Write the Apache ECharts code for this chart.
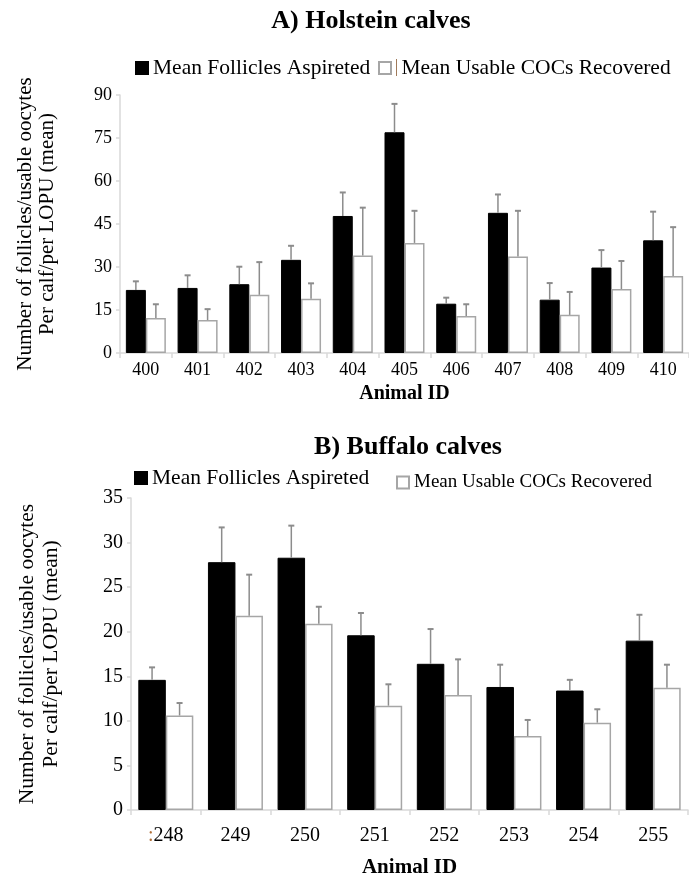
<!DOCTYPE html>
<html>
<head>
<meta charset="utf-8">
<script src="https://cdn.jsdelivr.net/npm/echarts@6/dist/echarts.min.js"></script>
<style>
html,body{margin:0;padding:0;background:#fff;}
#chart{width:689px;height:879px;}
</style>
</head>
<body>
<div id="chart"></div>
<script>
// ---- Data ----
const holsteinIds = ['400','401','402','403','404','405','406','407','408','409','410'];
const holsteinFollicles = [22, 22.7, 24, 32.5, 47.8, 77, 17.2, 48.9, 18.6, 29.8, 39.3];
const holsteinFolliclesErr = [3, 4.4, 6.1, 4.9, 8.2, 9.9, 2.1, 6.4, 5.8, 6.1, 10];
const holsteinCOCs = [12.2, 11.5, 20.3, 18.9, 34, 38.4, 12.9, 33.7, 13.3, 22.3, 26.9];
const holsteinCOCsErr = [4.8, 3.8, 11.4, 5.4, 16.7, 11.2, 4.1, 15.9, 8, 9.8, 17];

const buffaloIds = ['248','249','250','251','252','253','254','255'];
const buffaloFollicles = [14.6, 27.8, 28.3, 19.6, 16.4, 13.8, 13.4, 19.0];
const buffaloFolliclesErr = [1.4, 3.9, 3.6, 2.5, 3.9, 2.5, 1.2, 2.9];
const buffaloCOCs = [10.6, 21.8, 20.9, 11.7, 12.9, 8.3, 9.8, 13.7];
const buffaloCOCsErr = [1.4, 4.6, 1.9, 2.4, 4.0, 1.8, 1.5, 2.6];

const holsteinTicks = {min: 0, max: 90, interval: 15};
const buffaloTicks = {min: 0, max: 35, interval: 5};

const NAME_F = 'Mean Follicles Aspireted';
const NAME_C = 'Mean Usable COCs Recovered';
const SERIF = '"Liberation Serif", "Times New Roman", serif';
const AXIS_GREY = '#d9d9d9';
const ERR_GREY = '#8c8c8c';

function errSeries(xi, means, errs, offset) {
  return {
    type: 'custom', xAxisIndex: xi, yAxisIndex: xi, z: 5, silent: true,
    encode: {x: 0, y: [1, 2]},
    data: means.map((m, i) => [i, m, m + errs[i]]),
    renderItem: function (params, api) {
      const c0 = api.coord([api.value(0), api.value(1)]);
      const c1 = api.coord([api.value(0), api.value(2)]);
      const x = c0[0] + offset;
      return {type: 'group', children: [
        {type: 'line', shape: {x1: x, y1: c0[1], x2: x, y2: c1[1]}, style: {stroke: ERR_GREY, lineWidth: 1.5}},
        {type: 'line', shape: {x1: x - 3, y1: c1[1], x2: x + 3, y2: c1[1]}, style: {stroke: ERR_GREY, lineWidth: 2}}
      ]};
    }
  };
}

const blackStyle = {color: '#000', borderColor: '#000', borderWidth: 1};
const whiteStyle = {color: '#fff', borderColor: '#a6a6a6', borderWidth: 1.5};

function xAxisCfg(gi, cats, fs, margin, nameGap, nameFs, fmt) {
  return {
    type: 'category', gridIndex: gi, data: cats,
    axisLine: {lineStyle: {color: AXIS_GREY, width: 1.5}},
    axisTick: {show: true, length: 5, lineStyle: {color: AXIS_GREY, width: 1.5}},
    axisLabel: Object.assign({color: '#000', fontFamily: SERIF, fontSize: fs, margin: margin, interval: 0,
      rich: {d: {color: '#b0703a', fontFamily: SERIF, fontSize: fs}}}, fmt ? {formatter: fmt} : {}),
    name: 'Animal ID', nameLocation: 'middle', nameGap: nameGap,
    nameTextStyle: {color: '#000', fontFamily: SERIF, fontSize: nameFs, fontWeight: 'bold'}
  };
}
function yAxisCfg(gi, t, fs, nameGap, nameFs, lh) {
  return {
    type: 'value', gridIndex: gi, min: t.min, max: t.max, interval: t.interval,
    splitLine: {show: false},
    axisLine: {show: true, lineStyle: {color: AXIS_GREY, width: 1.5}},
    axisTick: {show: true, length: 4, lineStyle: {color: AXIS_GREY, width: 1.5}},
    axisLabel: {color: '#000', fontFamily: SERIF, fontSize: fs, margin: 8},
    name: 'Number of follicles/usable oocytes\nPer calf/per LOPU (mean)',
    nameLocation: 'middle', nameGap: nameGap, nameRotate: 90,
    nameTextStyle: {color: '#000', fontFamily: SERIF, fontSize: nameFs, lineHeight: lh, align: 'center'}
  };
}

const legendBase = {icon: 'rect', itemWidth: 12, itemHeight: 12, selectedMode: false, padding: 0};

const chart = echarts.init(document.getElementById('chart'), null, {renderer: 'canvas'});
const option = {
  animation: false,
  backgroundColor: '#fff',
  title: [
    {text: 'A) Holstein calves', left: 366, top: 3, textAlign: 'center',
     textStyle: {fontFamily: SERIF, fontSize: 26, fontWeight: 'bold', color: '#000'}},
    {text: 'B) Buffalo calves', left: 403, top: 429, textAlign: 'center',
     textStyle: {fontFamily: SERIF, fontSize: 26, fontWeight: 'bold', color: '#000'}}
  ],
  legend: [
    Object.assign({data: [NAME_F], left: 135, top: 57,
     textStyle: {fontFamily: SERIF, fontSize: 21.5, color: '#000'}}, legendBase),
    Object.assign({data: [NAME_C], left: 378, top: 57, formatter: ' {name}',
     textStyle: {fontFamily: SERIF, fontSize: 21.5, color: '#000'}}, legendBase),
    Object.assign({data: [NAME_F], left: 134, top: 467,
     textStyle: {fontFamily: SERIF, fontSize: 21.5, color: '#000'}}, legendBase),
    Object.assign({data: [NAME_C], left: 396, top: 473,
     textStyle: {fontFamily: SERIF, fontSize: 19, color: '#000'}}, legendBase)
  ],
  graphic: [
    {type: 'rect', shape: {x: 396, y: 59, width: 1, height: 17}, style: {fill: '#a07a5a'}, silent: true}
  ],
  grid: [
    {left: 120, right: 0, top: 95, height: 258},
    {left: 131, right: 1, top: 498, height: 315}
  ],
  xAxis: [
    xAxisCfg(0, holsteinIds, 18, 8, 31, 20),
    xAxisCfg(1, buffaloIds, 20, 16, 47, 21, (v, i) => i === 0 ? '{d|:}' + v : v)
  ],
  yAxis: [
    yAxisCfg(0, holsteinTicks, 18, 62, 21, 22),
    yAxisCfg(1, buffaloTicks, 20, 68, 21.5, 24)
  ],
  series: [
    {name: NAME_F, type: 'bar', xAxisIndex: 0, yAxisIndex: 0, data: holsteinFollicles,
     barWidth: 20, barGap: '0%', itemStyle: blackStyle},
    {name: NAME_C, type: 'bar', xAxisIndex: 0, yAxisIndex: 0, data: holsteinCOCs,
     barWidth: 20, barGap: '0%', itemStyle: whiteStyle},
    errSeries(0, holsteinFollicles, holsteinFolliclesErr, -10),
    errSeries(0, holsteinCOCs, holsteinCOCsErr, 10),
    {name: NAME_F, type: 'bar', xAxisIndex: 1, yAxisIndex: 1, data: buffaloFollicles,
     barWidth: 27.5, barGap: '0%', itemStyle: blackStyle},
    {name: NAME_C, type: 'bar', xAxisIndex: 1, yAxisIndex: 1, data: buffaloCOCs,
     barWidth: 27.5, barGap: '0%', itemStyle: whiteStyle},
    errSeries(1, buffaloFollicles, buffaloFolliclesErr, -13.75),
    errSeries(1, buffaloCOCs, buffaloCOCsErr, 13.75)
  ]
};
chart.setOption(option);
</script>
</body>
</html>
